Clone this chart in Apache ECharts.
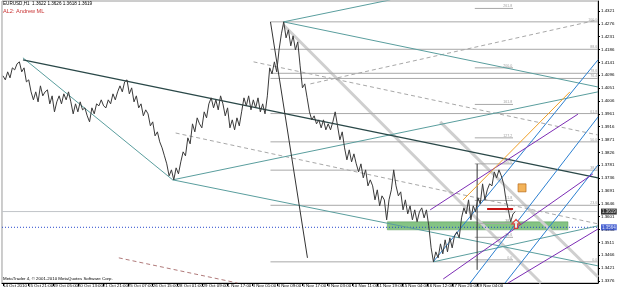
<!DOCTYPE html>
<html><head><meta charset="utf-8">
<script src="https://cdn.jsdelivr.net/npm/echarts@6/dist/echarts.min.js"></script>
<style>html,body{margin:0;padding:0;background:#fff}#c{width:625px;height:292px}</style>
</head><body><div id="c"></div>
<script>
// ---- data ----
const xTickBars = [0,32,64,96,128,160,192,224,256,288,320,352,384,416,448,480,512,544,576,608,640];
const xTickLabels = ["14 Oct 2010","15 Oct 21:00","19 Oct 05:00","20 Oct 13:00","21 Oct 21:00","25 Oct 07:00","26 Oct 15:00","28 Oct 01:00","29 Oct 09:00","1 Nov 17:00","3 Nov 01:00","4 Nov 09:00","5 Nov 17:00","9 Nov 03:00","10 Nov 11:00","11 Nov 19:00","15 Nov 04:00","16 Nov 12:00","17 Nov 20:00","19 Nov 04:00","22 Nov 13:00"];
const yTickValues = [1.3376,1.3421,1.3466,1.3511,1.3556,1.3601,1.3646,1.3691,1.3736,1.3781,1.3826,1.3871,1.3916,1.3961,1.4006,1.4051,1.4096,1.4141,1.4186,1.4231,1.4276,1.4321];
const barStep = 3; // one sample every 3 H1 bars
const prices = [
1.4094,1.4080,1.4108,1.4087,1.4122,1.4115,1.4136,1.4143,1.4108,1.4122,
1.4073,1.4080,1.4038,1.4010,1.4038,1.4003,1.4059,1.4024,1.4038,1.4045,
1.3996,1.4024,1.3968,1.4003,1.4024,1.3996,1.4031,1.4010,1.4038,1.4003,
1.3961,1.3996,1.3968,1.4003,1.3975,1.3982,1.3954,1.3933,1.3982,1.3961,
1.3996,1.3989,1.4010,1.3989,1.3982,1.4010,1.3996,1.4031,1.4010,1.4038,
1.4059,1.4038,1.4073,1.4080,1.4031,1.4052,1.4003,1.4024,1.3982,1.3996,
1.3954,1.3975,1.3961,1.3919,1.3933,1.3884,1.3898,1.3863,1.3842,1.3814,
1.3786,1.3744,1.3765,1.3730,1.3772,1.3751,1.3793,1.3828,1.3814,1.3877,
1.3856,1.3926,1.3898,1.3947,1.3926,1.3912,1.3968,1.3947,1.3996,1.4017,
1.3982,1.4010,1.3975,1.4024,1.3996,1.3954,1.3982,1.3912,1.3940,1.3905,
1.3947,1.3919,1.3968,1.4017,1.3989,1.4024,1.3975,1.4010,1.3982,1.4017,
1.3968,1.3996,1.3961,1.4024,1.4122,1.4101,1.4143,1.4108,1.4185,1.4241,
1.4283,1.4227,1.4255,1.4199,1.4234,1.4185,1.4213,1.4129,1.4052,1.4066,
1.4017,1.3968,1.3940,1.3954,1.3926,1.3940,1.3912,1.3940,1.3905,1.3926,
1.3905,1.3933,1.3968,1.3919,1.3870,1.3898,1.3842,1.3800,1.3835,1.3793,
1.3821,1.3786,1.3758,1.3786,1.3737,1.3765,1.3709,1.3730,1.3709,1.3660,
1.3695,1.3639,1.3674,1.3660,1.3590,1.3660,1.3695,1.3765,1.3709,1.3674,
1.3688,1.3625,1.3660,1.3611,1.3639,1.3590,1.3625,1.3583,1.3618,1.3632,
1.3597,1.3625,1.3569,1.3492,1.3443,1.3478,1.3457,1.3506,1.3471,1.3520,
1.3478,1.3527,1.3492,1.3534,1.3548,1.3527,1.3597,1.3632,1.3611,1.3660,
1.3590,1.3639,1.3618,1.3667,1.3646,1.3716,1.3660,1.3695,1.3716,1.3709,
1.3758,1.3737,1.3765,1.3744,1.3716,1.3660,1.3625,1.3583,1.3611,1.3619];
const bidPrice = 1.3619;
const dottedLevel = 1.3564;
// fibonacci retracement (high -> low)
const fibRetLevels = ["0.0","23.6","38.2","50.0","61.8","76.4","78.6","88.6","100.0"];
const fibRetPrices = [1.3443,1.3641,1.3764,1.3863,1.3962,1.4085,1.4103,1.4187,1.4283];
const fibRetBars = [343, 763];
// fibonacci expansion (short levels)
const fibExtLevels = ["0.0","23.6","38.2","50.0","61.8","100.0","127.2","161.8","200.0","261.8"];
const fibExtPrices = [1.3450,1.3529,1.3578,1.3618,1.3658,1.3786,1.3877,1.3994,1.4122,1.4330];
const fibExtBars = [605, 654];
// trend lines: [[bar, price],[bar, price]]
const darkTrend = [[[25.6,1.4150],[763,1.3737]]];
const tealLines = [
 [[25.6,1.4157],[217.6,1.3730]],
 [[217.6,1.3730],[763,1.4038]],
 [[359.7,1.4283],[763,1.4055]],
 [[359.7,1.4283],[496.6,1.4360]],
 [[551.7,1.3443],[763,1.3569]],
 [[217.6,1.3730],[763,1.3429]]];
const blackLines = [[[343,1.4283],[390.4,1.3457]], [[608,1.3786],[608,1.3415]]];
const dashedLines = [
 [[321.3,1.4143],[763,1.3887]],
 [[394.2,1.4066],[763,1.4290]],
 [[221.4,1.3894],[763,1.3576]]];
const pinkDashed = [[[148.5,1.3457],[300.8,1.3369]]];
const grayThick = [[[359.7,1.4272],[689.9,1.3369]], [[560.6,1.3933],[763,1.3390]]];
const blueLines = [
 [[551.7,1.3443],[763,1.4150]],
 [[599,1.3369],[763,1.3950]],
 [[643.8,1.3369],[763,1.3782]]];
const purpleLines = [
 [[547.8,1.3625],[737.3,1.3960]],
 [[564.5,1.3383],[756.5,1.3751]],
 [[647.7,1.3369],[763,1.3558]]];
const orangeLines = [[[590.1,1.3660],[727,1.4038]]];
const redLines = [[[620.8,1.3628],[654.1,1.3628]]];
const greenZone = [[492.8,1.3583],[724.5,1.3555]];
const orangeBox = [665.6,1.3702];
const redArrow = [657.9,1.3576];
const xMin = -1.3, xMax = 763;

// ---- chart ----
const chart = echarts.init(document.getElementById('c'), null, {renderer:'canvas'});
const series = [];
function addLines(list, color, width, type, z){
  list.forEach(d => series.push({type:'line', data:d, symbol:'none', silent:true, z:z,
    lineStyle:{color:color, width:width, type:type||'solid'}}));
}
addLines(grayThick, '#cfcfcf', 3, 'solid', 1);
fibRetPrices.forEach(p => series.push({type:'line', symbol:'none', silent:true, z:2,
  data:[[fibRetBars[0],p],[fibRetBars[1],p]], lineStyle:{color:'#a8a8a8', width:1}}));
fibExtPrices.forEach(p => series.push({type:'line', symbol:'none', silent:true, z:2,
  data:[[fibExtBars[0],p],[fibExtBars[1],p]], lineStyle:{color:'#a8a8a8', width:1}}));
// bid line and dotted level across whole chart
series.push({type:'line', symbol:'none', silent:true, z:2, data:[[xMin,bidPrice],[xMax,bidPrice]],
  lineStyle:{color:'#c0c4c8', width:1}});
series.push({type:'line', symbol:'none', silent:true, z:2, data:[[xMin,dottedLevel],[xMax,dottedLevel]],
  lineStyle:{color:'#2244cc', width:1, type:[1,2]}});
addLines(dashedLines, '#a8a8a8', 1, [4,3], 2);
addLines(pinkDashed, '#b07a7a', 1, [4,3], 2);
addLines(tealLines, '#5a9e9e', 1, 'solid', 3);
addLines(darkTrend, '#2a4848', 1.4, 'solid', 3);
addLines(blackLines, '#333333', 1, 'solid', 3);
addLines(blueLines, '#2b7fd0', 1, 'solid', 4);
addLines(purpleLines, '#7d2db5', 1, 'solid', 4);
addLines(orangeLines, '#f0a028', 1, 'solid', 4);
addLines(redLines, '#c81414', 2, 'solid', 6);
const labelStyle = {show:true, position:[0,0], align:'right', verticalAlign:'bottom', fontSize:3.6, color:'#888', fontFamily:'Liberation Sans'};
series.push({type:'scatter', symbolSize:0, silent:true, z:5,
  data: fibRetPrices.map((p,i)=>[fibRetBars[1]-1, p, fibRetLevels[i]]),
  label:Object.assign({}, labelStyle, {formatter:p=>p.data[2]})});
series.push({type:'scatter', symbolSize:0, silent:true, z:5,
  data: fibExtPrices.map((p,i)=>[fibExtBars[1]-1, p, fibExtLevels[i]]),
  label:Object.assign({}, labelStyle, {formatter:p=>p.data[2]})});
series.push({type:'line', symbol:'none', silent:true, z:5,
  data: prices.map((v,k)=>[k*barStep, v]),
  lineStyle:{color:'#3a3a3a', width:1},
  markArea:{silent:true, itemStyle:{color:'rgba(110,185,110,0.85)', borderColor:'#5a9a5a', borderWidth:0.5},
    data:[[{coord:greenZone[0]},{coord:greenZone[1]}]]}});
series.push({type:'scatter', silent:true, z:8, data:[orangeBox], symbol:'rect', symbolSize:8,
  itemStyle:{color:'#f0a030', borderColor:'#b06010', borderWidth:0.8}});
series.push({type:'scatter', silent:true, z:8, data:[redArrow],
  symbol:'path://M5,0 L10,5 L7,5 L7,10 L3,10 L3,5 L0,5 Z', symbolSize:[8,9],
  itemStyle:{color:'#ffffff', borderColor:'#e02020', borderWidth:1.2}});
// price boxes on the right scale
series.push({type:'scatter', symbolSize:0, silent:true, z:20, clip:false,
  data:[[xMax, bidPrice]],
  label:{show:true, position:[3,0], align:'left', verticalAlign:'middle', formatter:bidPrice.toFixed(4),
    color:'#fff', backgroundColor:'#000', fontSize:4.5, padding:[1,1,0,1], fontFamily:'Liberation Sans'}});
series.push({type:'scatter', symbolSize:0, silent:true, z:20, clip:false,
  data:[[xMax, dottedLevel]],
  label:{show:true, position:[3,0], align:'left', verticalAlign:'middle', formatter:dottedLevel.toFixed(4),
    color:'#fff', backgroundColor:'#1f3fc8', fontSize:4.5, padding:[1,1,0,1], fontFamily:'Liberation Sans'}});

chart.setOption({
  animation:false,
  backgroundColor:'#ffffff',
  grid:{left:1, right:27, top:1, bottom:9, show:true, borderColor:'#9a9a9a', borderWidth:1},
  xAxis:{type:'value', min:xMin, max:xMax,
    axisLine:{show:true, onZero:false, lineStyle:{color:'#000', width:1}},
    axisTick:{show:true, customValues:xTickBars, length:3, lineStyle:{color:'#000'}},
    axisLabel:{show:true, customValues:xTickBars, align:'left', margin:1, fontSize:4.4, color:'#000', fontFamily:'Liberation Sans',
      formatter:v=>{const i=xTickBars.indexOf(Math.round(v)); return i>=0?xTickLabels[i]:'';}},
    splitLine:{show:false}},
  yAxis:{type:'value', position:'right', min:1.3369, max:1.4356, scale:true,
    axisLine:{show:true, onZero:false, lineStyle:{color:'#000', width:1}},
    axisTick:{show:true, customValues:yTickValues, length:2, inside:false, lineStyle:{color:'#000'}},
    axisLabel:{show:true, customValues:yTickValues, margin:3, fontSize:4.4, color:'#000', fontFamily:'Liberation Sans',
      formatter:v=>v.toFixed(4)},
    splitLine:{show:false}},
  graphic:[
    {type:'text', left:3, top:1, style:{text:'EURUSD,H1  1.3622 1.3626 1.3618 1.3619', fontSize:4.6, fill:'#000', fontFamily:'Liberation Sans'}},
    {type:'text', left:3, top:8, style:{text:'AL2: Andrew ML', fontSize:5.6, fill:'#c83232', fontFamily:'Liberation Sans'}},
    {type:'text', left:3, top:277, style:{text:'MetaTrader 4, © 2001-2010 MetaQuotes Software Corp.', fontSize:4.4, fill:'#000', fontFamily:'Liberation Sans'}}
  ],
  series:series
});
</script></body></html>
